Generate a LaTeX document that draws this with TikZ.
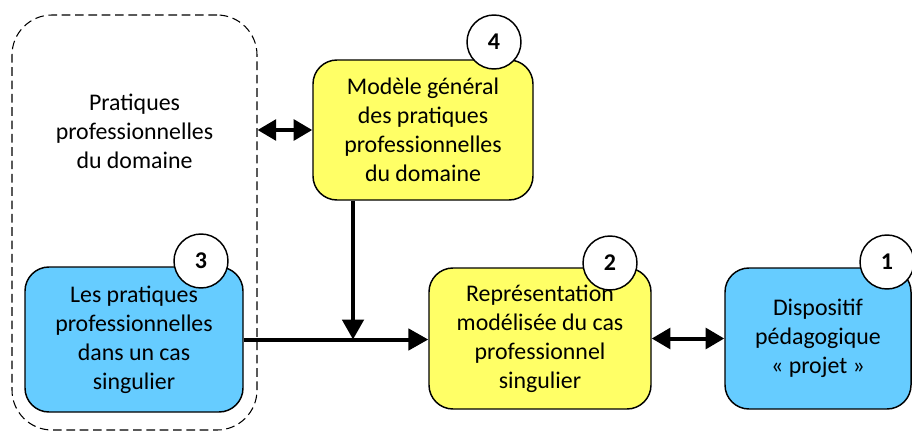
\documentclass[tikz,border=0pt]{standalone}
\usepackage{fontspec}
\setmainfont{Carlito}
\usetikzlibrary{arrows.meta}
\definecolor{boxyellow}{HTML}{FFFF66}
\definecolor{boxblue}{HTML}{66CCFF}
\begin{document}
\begin{tikzpicture}[x=0.75pt,y=-0.75pt,
  txt/.style={font=\fontsize{17.9pt}{21.75pt}\selectfont, align=center, text=black},
  card/.style={txt, draw=black, line width=1.1pt, rounded corners=18pt, inner sep=0pt},
  yel/.style={card, fill=boxyellow},
  blu/.style={card, fill=boxblue},
  numc/.style={circle, draw=black, line width=1.1pt, fill=white, minimum size=40.5pt, inner sep=0pt,
    font=\fontsize{18pt}{20pt}\selectfont\bfseries},
  dombox/.style={draw=black, line width=0.8pt, dash pattern=on 6.5pt off 3.5pt, rounded corners=30pt,
    minimum width=183.75pt, minimum height=311.25pt, inner sep=0pt},
  conn/.style={line width=3pt, -{Triangle[length=15pt,width=16pt]}},
  dconn/.style={line width=3pt, {Triangle[length=14pt,width=15.5pt]}-{Triangle[length=14pt,width=15.5pt]}}
]
\useasboundingbox (0,0) rectangle (912,431);
% dashed domain box
\node[dombox] (dom) at (134.5,222.5) {};
\node[txt] (domtext) at (134.5,131) {Pratiques\\professionnelles\\du domaine};
% boxes
\node[blu, minimum width=163.5pt, minimum height=108.75pt] (box3) at (134,339.5)
  {Les pratiques\\professionnelles\\dans un cas\\singulier};
\node[yel, minimum width=165pt, minimum height=105pt] (box4) at (423,130)
  {Modèle général\\des pratiques\\professionnelles\\du domaine};
\node[yel, minimum width=166.5pt, minimum height=105.75pt] (box2) at (540,338.5)
  {Représentation\\modélisée du cas\\professionnel\\singulier};
\node[blu, minimum width=139.5pt, minimum height=105.75pt] (box1) at (818,338.5)
  {Dispositif\\pédagogique\\« projet »};
% number circles
\node[numc] (n3) at (201,261) {3};
\node[numc] (n4) at (494,42) {4};
\node[numc] (n2) at (610,263) {2};
\node[numc] (n1) at (887,262) {1};
% connectors
\coordinate (j) at (353,339.5);
\draw[dconn] (box4.west -| dom.east) -- (box4.west);
\draw[conn] (j |- box4.south) -- (j);
\draw[conn] (box3.east) -- (box3.east -| box2.west);
\draw[dconn] (box2.east) -- (box1.west);
\end{tikzpicture}
\end{document}
